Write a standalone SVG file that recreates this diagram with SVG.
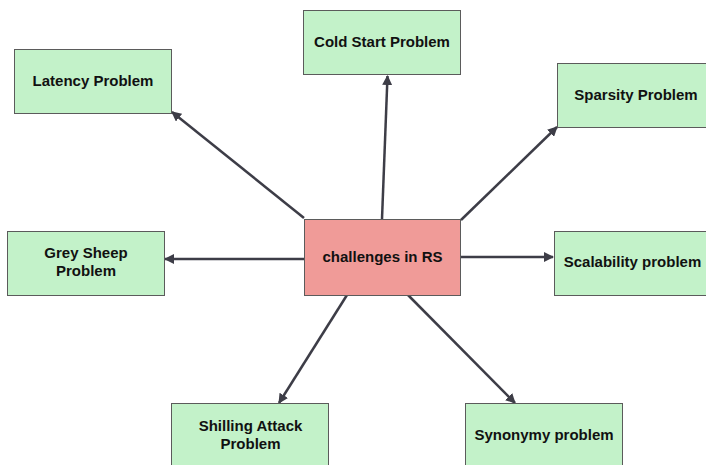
<svg xmlns="http://www.w3.org/2000/svg" width="706" height="465" viewBox="0 0 706 465">
<style>
.n{fill:#c3f2c9;stroke:#5b5b5b;stroke-width:1}
.c{fill:#f09b98;stroke:#5b5b5b;stroke-width:1}
.t{font-family:"Liberation Sans",Arial,sans-serif;font-weight:bold;font-size:15px;fill:#111;text-anchor:middle;dominant-baseline:central}
.e{stroke:#3d3d47;stroke-width:2.5;fill:none;marker-end:url(#a)}
</style>
<defs>
<marker id="a" viewBox="0 0 10 10" refX="9" refY="5" markerWidth="4" markerHeight="4" orient="auto" markerUnits="strokeWidth">
<path d="M0,0 L10,5 L0,10 z" fill="#3d3d47"/>
</marker>
</defs>
<rect width="706" height="465" fill="#fff"/>
<g id="edges">
<line class="e" x1="382" y1="219" x2="387.5" y2="76"/>
<line class="e" x1="304" y1="218" x2="172" y2="112"/>
<line class="e" x1="461" y1="220" x2="557" y2="127"/>
<line class="e" x1="304" y1="259" x2="165" y2="259"/>
<line class="e" x1="461" y1="257" x2="553" y2="257"/>
<line class="e" x1="347" y1="295" x2="279" y2="403"/>
<line class="e" x1="408" y1="295" x2="515" y2="403"/>
</g>
<g id="center">
<rect class="c" x="304.5" y="219.5" width="156" height="76"/>
<text class="t" x="382.5" y="256">challenges in RS</text>
</g>
<g id="coldstart">
<rect class="n" x="303.5" y="10.5" width="157" height="64"/>
<text class="t" x="382" y="41">Cold Start Problem</text>
</g>
<g id="latency">
<rect class="n" x="14.5" y="49.5" width="157" height="64"/>
<text class="t" x="93" y="80">Latency Problem</text>
</g>
<g id="sparsity">
<rect class="n" x="557.5" y="63.5" width="157" height="64"/>
<text class="t" x="636" y="94">Sparsity Problem</text>
</g>
<g id="greysheep">
<rect class="n" x="7.5" y="231.5" width="157" height="64"/>
<text class="t" x="86" y="252">Grey Sheep</text>
<text class="t" x="86" y="270.5">Problem</text>
</g>
<g id="scalability">
<rect class="n" x="554.5" y="231.5" width="157" height="64"/>
<text class="t" x="632.5" y="261">Scalability problem</text>
</g>
<g id="shilling">
<rect class="n" x="171.5" y="403.5" width="157" height="64"/>
<text class="t" x="250.5" y="425">Shilling Attack</text>
<text class="t" x="250.5" y="443">Problem</text>
</g>
<g id="synonymy">
<rect class="n" x="465.5" y="403.5" width="157" height="64"/>
<text class="t" x="544" y="434">Synonymy problem</text>
</g>
</svg>
